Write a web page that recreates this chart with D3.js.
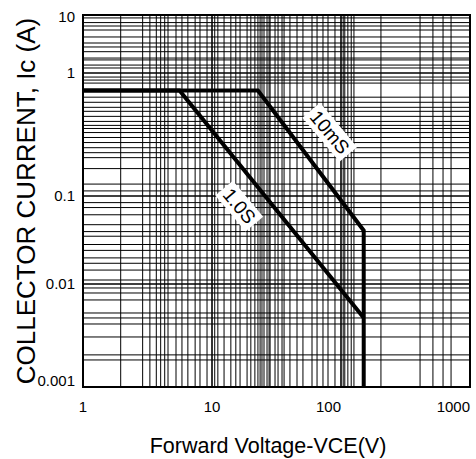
<!DOCTYPE html>
<html>
<head>
<meta charset="utf-8">
<script src="https://cdn.jsdelivr.net/npm/d3@7"></script>
<style>
  html, body { margin: 0; padding: 0; background: #fff; }
  svg { display: block; font-family: "Liberation Sans", Arial, sans-serif; }
</style>
</head>
<body>
<svg id="chart" width="476" height="459"></svg>
<script>
// ---------- data ----------
const xTickValues = [1, 10, 100, 1000];
const xTickLabels = ["1", "10", "100", "1000"];
const yTickValues = [10, 1, 0.1, 0.01, 0.001];
const yTickLabels = ["10", "1", "0.1", "0.01", "0.001"];

// vertical gridlines (V)
const xGrid = [1.96, 2.9, 3.3, 3.7, 4.0, 4.3, 4.56, 5.26, 5.85, 6.5, 7.4, 8.07, 9.15, 10,
  10.5, 11.1, 12.4, 14.0, 15.3, 16.5, 18.7, 20.0, 21.5, 22.7, 23.6, 24.4, 25.3, 26.7, 27.7,
  28.2, 30.8, 32.5, 34.9, 36.2, 40.2, 45.6, 50.7, 59.6, 65.2, 72.5, 79.3, 89.8, 100,
  104, 107, 113, 120, 126, 204, 410, 516, 618, 713];
// horizontal gridlines (A)
const yGrid = [8.9, 7.4, 6.46, 5.51, 4.18, 3.29, 2.81, 2.33, 1.81, 1.68, 1.37, 1.22, 1,
  0.927, 0.876, 0.828, 0.636, 0.578, 0.526, 0.488, 0.444, 0.404, 0.375, 0.354, 0.328, 0.299,
  0.272, 0.247, 0.225, 0.205, 0.167, 0.125, 0.11, 0.1,
  0.0841, 0.0739, 0.0612, 0.0472, 0.0394, 0.0349, 0.0281, 0.0241, 0.0198, 0.0172, 0.0144, 0.0111, 0.01,
  0.00915, 0.00818, 0.0070, 0.00523, 0.00468, 0.00409, 0.00306, 0.00205, 0.00183];

// safe operating area curves: [V, A]
const curve10mS = [[1, 0.72], [22.7, 0.72], [150, 0.0405], [150, 0.001]];
const curve1S   = [[1, 0.72], [5.6, 0.72], [150, 0.0047]];
const curveLabels = ["10mS", "1.0S"];
const labelAnchors = [[82, 0.33], [16.3, 0.077]];

const xTitle = "Forward Voltage-VCE(V)";
const yTitle = "COLLECTOR CURRENT, Ic (A)";

// ---------- scales ----------
const x = d3.scaleLog().domain([1, 1000]).range([83, 470]);
const y = d3.scaleLog().domain([0.001, 0.01, 0.1, 1, 10]).range([387, 284, 196, 73, 15]);

const svg = d3.select("#chart");

// gridlines
const grid = svg.append("g");
grid.selectAll("line.vx").data(xGrid).join("line")
  .attr("x1", d => x(d)).attr("x2", d => x(d))
  .attr("y1", y(10)).attr("y2", y(0.001))
  .attr("stroke", "#000").attr("stroke-width", d => (d === 10 || d === 100) ? 1.6 : 1);
grid.selectAll("line.hy").data(yGrid).join("line")
  .attr("y1", d => y(d)).attr("y2", d => y(d))
  .attr("x1", x(1)).attr("x2", x(1000))
  .attr("stroke", "#000").attr("stroke-width", d => (d === 1 || d === 0.1 || d === 0.01) ? 1.6 : 1);

// frame
svg.append("rect")
  .attr("x", x(1)).attr("y", y(10))
  .attr("width", x(1000) - x(1)).attr("height", y(0.001) - y(10))
  .attr("fill", "none").attr("stroke", "#000").attr("stroke-width", 2);

// curves
const line = d3.line().x(d => x(d[0])).y(d => y(d[1]));
[curve10mS, curve1S].forEach(c => {
  svg.append("path").attr("d", line(c))
    .attr("fill", "none").attr("stroke", "#000")
    .attr("stroke-width", 4).attr("stroke-linejoin", "miter");
});

// curve labels with white boxes
curveLabels.forEach((t, i) => {
  const [vx, vy] = labelAnchors[i];
  const g = svg.append("g")
    .attr("transform", `translate(${x(vx)},${y(vy)}) rotate(50)`);
  const txt = g.append("text")
    .attr("text-anchor", "middle").attr("dy", "0.35em")
    .attr("font-size", 19).attr("fill", "#000").text(t);
  const bb = txt.node().getBBox();
  g.insert("rect", "text")
    .attr("x", bb.x - 4).attr("y", bb.y - 1)
    .attr("width", bb.width + 8).attr("height", bb.height + 2)
    .attr("fill", "#fff");
});

// y tick labels
svg.append("g").selectAll("text").data(yTickValues).join("text")
  .attr("x", 75)
  .attr("y", d => Math.max(17, Math.min(381, y(d))))
  .attr("dy", "0.35em")
  .attr("text-anchor", "end")
  .attr("font-size", 15).attr("fill", "#000")
  .text((d, i) => yTickLabels[i]);

// x tick labels
svg.append("g").selectAll("text").data(xTickValues).join("text")
  .attr("x", d => x(d))
  .attr("y", 412)
  .attr("text-anchor", (d, i) => i < 2 ? "middle" : "end")
  .attr("font-size", 15).attr("fill", "#000")
  .text((d, i) => xTickLabels[i]);

// axis titles
svg.append("text")
  .attr("x", 268).attr("y", 453)
  .attr("text-anchor", "middle")
  .attr("font-size", 21.5).attr("fill", "#000")
  .text(xTitle);

svg.append("text")
  .attr("transform", `translate(35,201) rotate(-90)`)
  .attr("text-anchor", "middle")
  .attr("font-size", 26).attr("fill", "#000")
  .text(yTitle);
</script>
</body>
</html>
